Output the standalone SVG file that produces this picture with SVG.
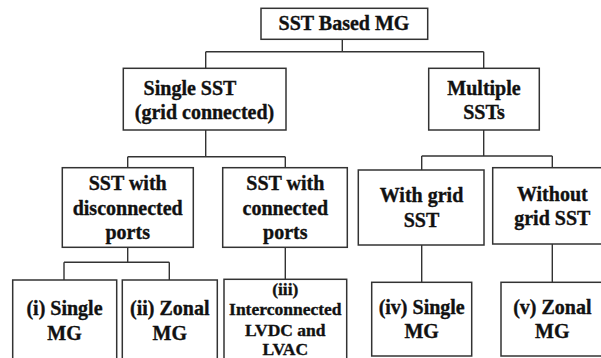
<svg xmlns="http://www.w3.org/2000/svg" width="601" height="358" viewBox="0 0 601 358">
<style>
.box{fill:#fff;stroke:#333;stroke-width:1.5}
.ln{fill:none;stroke:#333;stroke-width:1.4}
text{font-family:"Liberation Serif","Times New Roman",serif;font-weight:bold;font-size:20px;fill:#111;stroke:#111;stroke-width:0.35;text-anchor:middle}
.sm{font-size:17.5px}
</style>
<rect width="601" height="358" fill="#fff"/>
<g id="connectors">
<path class="ln" d="M342.3 39.3V51.7M205.7 51.7H483.7M205.7 51.7V68.3M483.7 51.7V68.3"/>
<path class="ln" d="M205.7 130V156.7M127.7 156.7H285.3M127.7 156.7V167.7M285.3 156.7V167.7"/>
<path class="ln" d="M483.7 130V156M421.7 156H552.3M421.7 156V170M552.3 156V167.7"/>
<path class="ln" d="M127.7 247.3V262.3M64 262.3H169.3M64 262.3V280M169.3 262.3V280"/>
<path class="ln" d="M285.3 247.3V279.3"/>
<path class="ln" d="M421.7 245V282.3"/>
<path class="ln" d="M552.3 244V282.3"/>
</g>
<g id="root">
<rect class="box" x="261" y="8.3" width="166.7" height="31"/>
<text x="344" y="30">SST Based MG</text>
</g>
<g id="single-sst">
<rect class="box" x="123.3" y="68.3" width="162.7" height="61.7"/>
<text x="190" y="95">Single SST</text>
<text x="204.5" y="119">(grid connected)</text>
</g>
<g id="multiple-ssts">
<rect class="box" x="428.7" y="68.3" width="110.6" height="61.7"/>
<text x="484" y="95">Multiple</text>
<text x="484" y="119">SSTs</text>
</g>
<g id="sst-disconnected">
<rect class="box" x="62.3" y="167.7" width="131" height="79.6"/>
<text x="127.7" y="190">SST with</text>
<text x="127.7" y="214.5">disconnected</text>
<text x="127.7" y="239">ports</text>
</g>
<g id="sst-connected">
<rect class="box" x="222.7" y="167.7" width="124.6" height="79.6"/>
<text x="285.3" y="190">SST with</text>
<text x="285.3" y="214.5">connected</text>
<text x="285.3" y="239">ports</text>
</g>
<g id="with-grid">
<rect class="box" x="358.3" y="170" width="125.7" height="75"/>
<text x="421.5" y="202.3">With grid</text>
<text x="421.5" y="226.7">SST</text>
</g>
<g id="without-grid">
<rect class="box" x="492.7" y="167.7" width="119" height="76.3"/>
<text x="552.3" y="200.7">Without</text>
<text x="552.3" y="225">grid SST</text>
</g>
<g id="single-mg-i">
<rect class="box" x="12.7" y="280" width="104" height="85"/>
<text x="64.5" y="315.3">(i) Single</text>
<text x="64.5" y="340">MG</text>
</g>
<g id="zonal-mg-ii">
<rect class="box" x="122.3" y="280" width="95" height="85"/>
<text x="169.8" y="315.3">(ii) Zonal</text>
<text x="169.8" y="340">MG</text>
</g>
<g id="interconnected-iii">
<rect class="box" x="224" y="279.3" width="122.7" height="85"/>
<text class="sm" x="285.3" y="295">(iii)</text>
<text class="sm" x="285.3" y="315">Interconnected</text>
<text class="sm" x="285.3" y="336">LVDC and</text>
<text class="sm" x="285.3" y="355">LVAC</text>
</g>
<g id="single-mg-iv">
<rect class="box" x="371.7" y="282.3" width="100" height="73.7"/>
<text x="421.7" y="314">(iv) Single</text>
<text x="421.7" y="338.3">MG</text>
</g>
<g id="zonal-mg-v">
<rect class="box" x="501" y="282.3" width="103" height="73.7"/>
<text x="552.3" y="314">(v) Zonal</text>
<text x="552.3" y="338.3">MG</text>
</g>
</svg>
